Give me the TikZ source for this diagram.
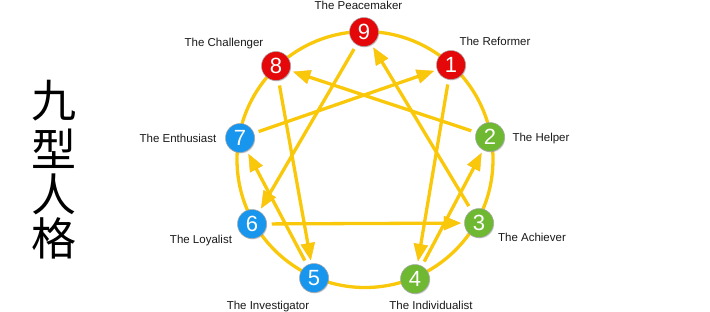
\documentclass[tikz,border=0pt]{standalone}
\usepackage{fontspec}
\setmainfont{Liberation Sans}
\newfontfamily\cjk{Noto Sans CJK SC}
\usetikzlibrary{calc,shadows,backgrounds}
\definecolor{ringc}{RGB}{250,200,10}
\definecolor{redn}{RGB}{228,8,10}
\definecolor{greenn}{RGB}{110,184,50}
\definecolor{bluen}{RGB}{24,150,238}
\definecolor{labc}{RGB}{25,25,25}
\tikzset{
  num/.style={circle, minimum size=29pt, inner sep=0pt, text=white,
    font=\fontsize{22}{22}\selectfont, draw=black!35, line width=0.5pt,
    drop shadow={opacity=0.35, shadow xshift=0.7pt, shadow yshift=-0.9pt}},
  rednum/.style={num, fill=redn},
  greennum/.style={num, fill=greenn},
  bluenum/.style={num, fill=bluen},
  lab/.style={anchor=base, text=labc, inner sep=0pt, font=\fontsize{11.5}{11.5}\selectfont},
  ring/.style={draw=ringc, line width=3.3pt},
  conn/.style={draw=ringc, line width=3.3pt, shorten <=5pt},
  tiphead/.style={fill=ringc, draw=ringc!85!orange, line width=0.4pt, line join=miter},
  hanzi/.style={inner sep=0pt, font=\cjk\fontsize{45}{45}\selectfont, text=black}
}
\newcommand\ennarrow[2]{%
  \coordinate (tp#1#2) at ($(#2)!18.5pt!(#1)$);
  \coordinate (bs#1#2) at ($(#2)!35pt!(#1)$);
  \draw[conn] (#1) -- ($(#2)!30pt!(#1)$);
  \filldraw[tiphead] (tp#1#2) -- ($(bs#1#2)!7pt!90:(tp#1#2)$) -- ($(bs#1#2)!7pt!-90:(tp#1#2)$) -- cycle;
}
\begin{document}
\begin{tikzpicture}[x=1pt,y=-1pt]
\useasboundingbox (0,0) rectangle (710,311);

% vertical title
\node[hanzi] (h1) at (54,101) {九};
\node[hanzi] (h2) at (54,149) {型};
\node[hanzi] (h3) at (54,194) {人};
\node[hanzi] (h4) at (54,238) {格};

% points
\node[rednum] (n9) at (364,32) {9};
\node[rednum] (n1) at (451,65) {1};
\node[rednum] (n8) at (276,66) {8};
\node[greennum] (n2) at (490,137) {2};
\node[greennum] (n3) at (479,223) {3};
\node[greennum] (n4) at (415,279) {4};
\node[bluenum] (n5) at (314,278) {5};
\node[bluenum] (n6) at (252,224) {6};
\node[bluenum] (n7) at (240,138) {7};

% labels
\node[lab] (l9) at (358.5,9.5) {The Peacemaker};
\node[lab] (l8) at (224,46.5) {The Challenger};
\node[lab] (l1) at (495,45.5) {The Reformer};
\node[lab] (l7) at (178,142.5) {The Enthusiast};
\node[lab] (l2) at (541,141.5) {The Helper};
\node[lab] (l6) at (201,243.5) {The Loyalist};
\node[lab] (l3) at (532,241.5) {The Achiever};
\node[lab] (l5) at (268,309.3) {The Investigator};
\node[lab] (l4) at (431,309.8) {The Individualist};

\begin{scope}[on background layer]
  \coordinate (c0) at (365,159.5);
  \draw[ring] (c0) circle[radius=128];
  \ennarrow{n1}{n4}
  \ennarrow{n4}{n2}
  \ennarrow{n2}{n8}
  \ennarrow{n8}{n5}
  \ennarrow{n5}{n7}
  \ennarrow{n7}{n1}
  \ennarrow{n9}{n6}
  \ennarrow{n6}{n3}
  \ennarrow{n3}{n9}
\end{scope}
\end{tikzpicture}
\end{document}
